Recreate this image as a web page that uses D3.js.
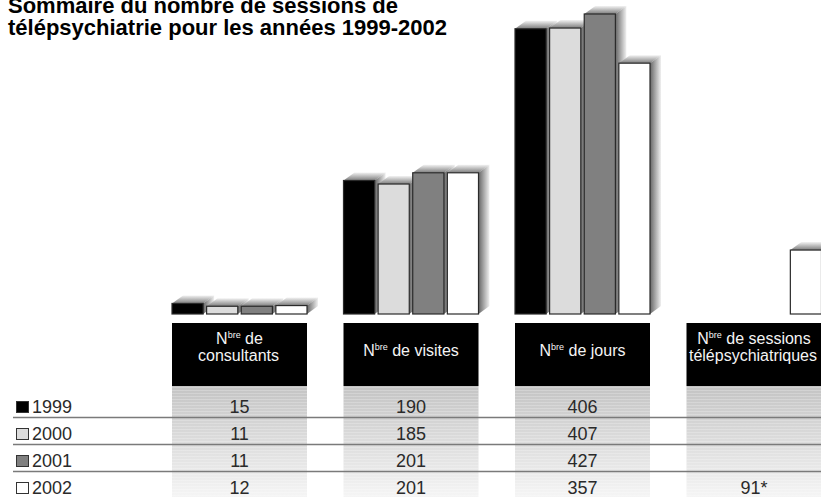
<!DOCTYPE html>
<html lang="fr">
<head>
<meta charset="UTF-8">
<title>Télépsychiatrie 1999-2002</title>
<script src="https://d3js.org/d3.v7.min.js"></script>
<style>
  body { margin: 0; padding: 0; background: #fff; }
  svg { display: block; font-family: "Liberation Sans", Arial, sans-serif; }
</style>
</head>
<body>
<div id="chart"></div>
<script>
// data
var years = ["1999", "2000", "2001", "2002"];
var colors = ["#000000", "#dcdcdc", "#808080", "#ffffff"];
var headLine1 = ["de", "de visites", "de jours", "de sessions"];
var headLine2 = ["consultants", "", "", "télépsychiatriques"];
var v1999 = [15, 190, 406, null];
var v2000 = [11, 185, 407, null];
var v2001 = [11, 201, 427, null];
var v2002 = [12, 201, 357, 91];
var notes2002 = ["", "", "", "*"];

var series = [v1999, v2000, v2001, v2002];

var width = 821, height = 497;
var base = 314;

var svg = d3.select("#chart").append("svg")
    .attr("width", width)
    .attr("height", height);

var defs = svg.append("defs");
var gTop = defs.append("linearGradient").attr("id", "gTop")
    .attr("x1", 0).attr("y1", 1).attr("x2", 0).attr("y2", 0);
gTop.append("stop").attr("offset", "0%").attr("stop-color", "#7c7c7c");
gTop.append("stop").attr("offset", "100%").attr("stop-color", "#f2f2f2");
var gSide = defs.append("linearGradient").attr("id", "gSide")
    .attr("x1", 0).attr("y1", 0).attr("x2", 1).attr("y2", 0);
gSide.append("stop").attr("offset", "0%").attr("stop-color", "#666");
gSide.append("stop").attr("offset", "100%").attr("stop-color", "#f0f0f0");
var gCol = defs.append("linearGradient").attr("id", "gCol")
    .attr("x1", 0).attr("y1", 0).attr("x2", 0).attr("y2", 1);
gCol.append("stop").attr("offset", "0%").attr("stop-color", "#c4c4c4");
gCol.append("stop").attr("offset", "100%").attr("stop-color", "#f5f5f5");
// faint horizontal banding in the table columns
var stripes = defs.append("pattern").attr("id", "stripes")
    .attr("patternUnits", "userSpaceOnUse")
    .attr("width", 8).attr("height", 3);
stripes.append("rect").attr("width", 8).attr("height", 1)
    .attr("fill", "#fff").attr("opacity", 0.22);

var x0 = d3.scaleBand()
    .domain(d3.range(headLine1.length))
    .range([172, 821.5])
    .paddingInner(0.2128);

var x1 = d3.scaleBand()
    .domain(years)
    .range([0, x0.bandwidth()])
    .paddingInner(0.1);

var y = d3.scaleLinear()
    .domain([0, 427])
    .range([base, 14]);

// title (top line is cut by the frame, as in the original)
var title = svg.append("text")
    .attr("x", 8)
    .attr("font-size", 22)
    .attr("font-weight", "bold")
    .attr("fill", "#000");
title.append("tspan").attr("x", 8).attr("y", 13).text("Sommaire du nombre de sessions de");
title.append("tspan").attr("x", 8).attr("y", 35).text("télépsychiatrie pour les années 1999-2002");

// bars with 3D shading
var dx = 11, dy = 8;
var bars = [];
x0.domain().forEach(function (c) {
    years.forEach(function (yr, s) {
        var v = series[s][c];
        if (v == null) return;
        bars.push({ c: c, s: s, v: v });
    });
});

var bar = svg.append("g").selectAll("g")
    .data(bars)
    .enter().append("g")
    .attr("transform", function (d) { return "translate(" + (x0(d.c) + x1(years[d.s])) + ",0)"; });

bar.append("polygon")
    .attr("fill", "url(#gTop)")
    .attr("points", function (d) {
        var w = x1.bandwidth(), t = y(d.v);
        return [[0, t], [dx, t - dy], [w + dx, t - dy], [w, t]].join(" ");
    });
bar.append("polygon")
    .attr("fill", "url(#gSide)")
    .attr("points", function (d) {
        var w = x1.bandwidth(), t = y(d.v);
        return [[w, t], [w + dx, t - dy], [w + dx, base - dy], [w, base]].join(" ");
    });
bar.append("rect")
    .attr("x", 0)
    .attr("y", function (d) { return y(d.v); })
    .attr("width", x1.bandwidth())
    .attr("height", function (d) { return base - y(d.v); })
    .attr("fill", function (d) { return colors[d.s]; })
    .attr("stroke", "#2a2a2a")
    .attr("stroke-width", 1.2);

// table
var headTop = 323, headBot = 386;
var rowY = d3.scaleBand().domain(years).range([390.5, 498.5]);

var col = svg.append("g").selectAll("g")
    .data(x0.domain())
    .enter().append("g")
    .attr("transform", function (c) { return "translate(" + x0(c) + ",0)"; });

col.append("rect")
    .attr("y", headBot)
    .attr("width", x0.bandwidth())
    .attr("height", height - headBot)
    .attr("fill", "url(#gCol)");
col.append("rect")
    .attr("y", headBot)
    .attr("width", x0.bandwidth())
    .attr("height", height - headBot)
    .attr("fill", "url(#stripes)");

col.append("rect")
    .attr("y", headTop)
    .attr("width", x0.bandwidth())
    .attr("height", headBot - headTop)
    .attr("fill", "#000");

var head = col.append("text")
    .attr("text-anchor", "middle")
    .attr("fill", "#f4f4f4")
    .attr("font-size", 16);

head.each(function (c) {
    var t = d3.select(this);
    var two = headLine2[c] !== "";
    var l1 = t.append("tspan")
        .attr("x", x0.bandwidth() / 2)
        .attr("y", two ? 344 : 355.5);
    l1.append("tspan").text("N");
    l1.append("tspan").attr("font-size", 9).attr("dy", -6).text("bre");
    l1.append("tspan").attr("dy", 6).text(" " + headLine1[c]);
    if (two) {
        t.append("tspan")
            .attr("x", x0.bandwidth() / 2 - 1)
            .attr("y", 361)
            .text(headLine2[c]);
    }
});

// row separators
svg.append("g").selectAll("line")
    .data(years.slice(0, 3))
    .enter().append("line")
    .attr("x1", 13).attr("x2", width)
    .attr("y1", function (yr) { return rowY(yr) + rowY.step(); })
    .attr("y2", function (yr) { return rowY(yr) + rowY.step(); })
    .attr("stroke", "#7a7a7a")
    .attr("stroke-width", 1.5);

// legend column and values
var row = svg.append("g").selectAll("g")
    .data(years)
    .enter().append("g")
    .attr("transform", function (yr) { return "translate(0," + (rowY(yr) + 22.5) + ")"; });

row.append("rect")
    .attr("x", 16.5).attr("y", -11.5)
    .attr("width", 12).attr("height", 11)
    .attr("fill", function (yr, i) { return colors[i]; })
    .attr("stroke", "#333")
    .attr("stroke-width", 1);

row.append("text")
    .attr("x", 32)
    .attr("font-size", 18)
    .attr("fill", "#2a2a2a")
    .text(function (yr) { return yr; });

row.selectAll("text.val")
    .data(function (yr, i) {
        return series[i].map(function (v, c) { return { v: v, c: c, s: i }; })
            .filter(function (d) { return d.v != null; });
    })
    .enter().append("text")
    .attr("class", "val")
    .attr("x", function (d) { return x0(d.c) + x0.bandwidth() / 2; })
    .attr("text-anchor", "middle")
    .attr("font-size", 18)
    .attr("fill", "#2a2a2a")
    .text(function (d) { return d.v + (d.s === 3 ? notes2002[d.c] : ""); });
</script>
</body>
</html>
